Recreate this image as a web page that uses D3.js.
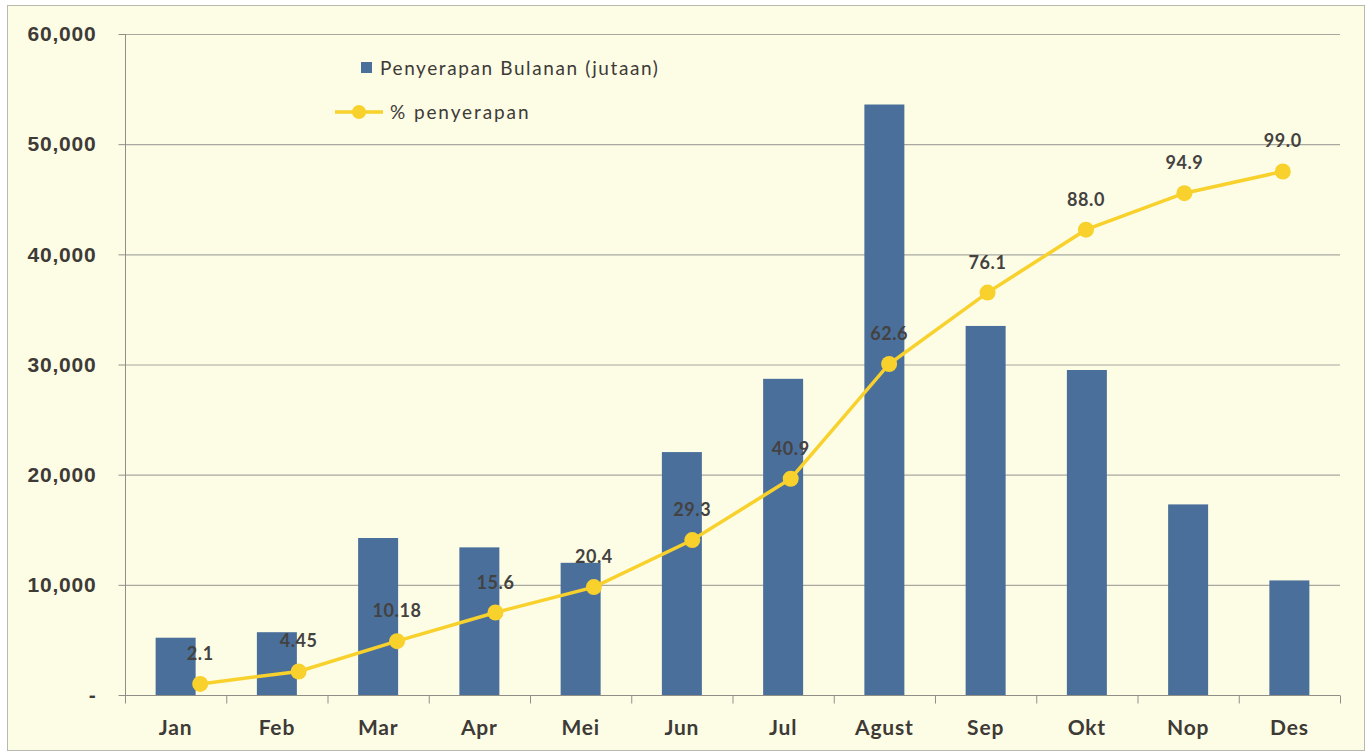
<!DOCTYPE html>
<html>
<head>
<meta charset="utf-8">
<script src="https://cdn.jsdelivr.net/npm/d3@7"></script>
<style>
  body { margin: 0; background: #fff; }
  svg { display: block; font-family: Lato, 'Open Sans', sans-serif; }
</style>
</head>
<body>
<div id="chart"></div>
<script>
const months = ['Jan', 'Feb', 'Mar', 'Apr', 'Mei', 'Jun', 'Jul', 'Agust', 'Sep', 'Okt', 'Nop', 'Des']
const monthly = [5200, 5700, 14250, 13400, 12000, 22050, 28700, 53600, 33500, 29500, 17300, 10400]
const percent = [2.1, 4.45, 10.18, 15.6, 20.4, 29.3, 40.9, 62.6, 76.1, 88.0, 94.9, 99.0]
const percentLabels = ['2.1', '4.45', '10.18', '15.6', '20.4', '29.3', '40.9', '62.6', '76.1', '88.0', '94.9', '99.0']
const yTicks = [0, 10000, 20000, 30000, 40000, 50000, 60000]

const W = 1370, H = 753
const plot = { left: 125, right: 1340, top: 34, bottom: 695 }

const svg = d3.select('#chart').append('svg')
  .attr('width', W).attr('height', H)

// outer frame
svg.append('rect')
  .attr('x', 7.5).attr('y', 5.5)
  .attr('width', 1357).attr('height', 745)
  .attr('fill', '#fdfde6')
  .attr('stroke', '#b8b8b0')

const x = d3.scaleBand()
  .domain(months)
  .range([plot.left, plot.right])

// line series sits on its own (secondary) category axis
const x2 = d3.scaleBand()
  .domain(months)
  .range([151, 1332])

const y = d3.scaleLinear()
  .domain([0, 60000])
  .range([plot.bottom, plot.top])

const y2 = d3.scaleLinear()
  .domain([0, 125])
  .range([plot.bottom, plot.top])

// gridlines
svg.append('g')
  .selectAll('line')
  .data(yTicks.slice(1))
  .enter().append('line')
  .attr('x1', plot.left).attr('x2', plot.right)
  .attr('y1', d => y(d) + 0.5).attr('y2', d => y(d) + 0.5)
  .attr('stroke', '#a8a8a0')
  .attr('stroke-width', 1.2)

// left axis
const yAxis = d3.axisLeft(y)
  .tickValues(yTicks)
  .tickSize(7)
  .tickPadding(22)
  .tickFormat(d => d === 0 ? '-' : d3.format(',')(d))
let yG = svg.append('g')
  .attr('transform', 'translate(' + (plot.left + 0.5) + ',0)')
  .call(yAxis)
yG.select('.domain').attr('stroke', '#8f8f88').attr('d', 'M0,' + plot.top + 'V' + plot.bottom)
yG.selectAll('.tick line').attr('stroke', '#8f8f88')
yG.selectAll('text')
  .attr('fill', '#3e3a36')
  .style('font-size', '21px')
  .style('letter-spacing', '0.8px')
  .style('font-weight', 'bold')

// bottom axis, ticks at category boundaries
let xG = svg.append('g')
  .attr('transform', 'translate(0,' + (plot.bottom + 0.5) + ')')
xG.append('line')
  .attr('x1', plot.left).attr('x2', plot.right)
  .attr('stroke', '#8f8f88')
xG.selectAll('.tk')
  .data(months.concat(['end']))
  .enter().append('line')
  .attr('x1', (d, i) => plot.left + i * x.step() + 0.5)
  .attr('x2', (d, i) => plot.left + i * x.step() + 0.5)
  .attr('y1', 0).attr('y2', 8)
  .attr('stroke', '#8f8f88')
xG.selectAll('text')
  .data(months)
  .enter().append('text')
  .attr('x', d => x(d) + x.bandwidth() / 2)
  .attr('y', 39)
  .attr('text-anchor', 'middle')
  .attr('fill', '#3e3a36')
  .style('font-size', '21px')
  .style('letter-spacing', '0.8px')
  .style('font-weight', 'bold')
  .text(d => d)

// bars
const barW = 40
svg.append('g')
  .selectAll('rect')
  .data(monthly)
  .enter().append('rect')
  .attr('x', (d, i) => x(months[i]) + x.bandwidth() / 2 - barW / 2)
  .attr('y', d => y(d))
  .attr('width', barW)
  .attr('height', d => y(0) - y(d))
  .attr('fill', '#4a6f9b')

// line
const line = d3.line()
  .x((d, i) => x2(months[i]) + x2.bandwidth() / 2)
  .y(d => y2(d))
svg.append('path')
  .datum(percent)
  .attr('d', line)
  .attr('fill', 'none')
  .attr('stroke', '#f8d12c')
  .attr('stroke-width', 3.5)

svg.append('g')
  .selectAll('circle')
  .data(percent)
  .enter().append('circle')
  .attr('cx', (d, i) => x2(months[i]) + x2.bandwidth() / 2)
  .attr('cy', d => y2(d))
  .attr('r', 8)
  .attr('fill', '#f8d12c')

svg.append('g')
  .selectAll('text')
  .data(percent)
  .enter().append('text')
  .attr('x', (d, i) => x2(months[i]) + x2.bandwidth() / 2)
  .attr('y', d => y2(d) - 24)
  .attr('text-anchor', 'middle')
  .attr('fill', '#444240')
  .style('font-size', '18px')
  .style('letter-spacing', '0.6px')
  .style('font-weight', 'bold')
  .text((d, i) => percentLabels[i])

// legend
const legend = svg.append('g')
legend.append('rect')
  .attr('x', 361).attr('y', 62)
  .attr('width', 11).attr('height', 11)
  .attr('fill', '#4a6f9b')
legend.append('text')
  .attr('x', 380).attr('y', 75)
  .attr('fill', '#3e3a36')
  .style('font-size', '19px')
  .style('letter-spacing', '1.6px')
  .text('Penyerapan Bulanan (jutaan)')
legend.append('line')
  .attr('x1', 335).attr('x2', 383)
  .attr('y1', 112).attr('y2', 112)
  .attr('stroke', '#f8d12c')
  .attr('stroke-width', 3.5)
legend.append('circle')
  .attr('cx', 359).attr('cy', 112)
  .attr('r', 7)
  .attr('fill', '#f8d12c')
legend.append('text')
  .attr('x', 390).attr('y', 119)
  .attr('fill', '#3e3a36')
  .style('font-size', '19px')
  .style('letter-spacing', '1.9px')
  .text('% penyerapan')
</script>
</body>
</html>
